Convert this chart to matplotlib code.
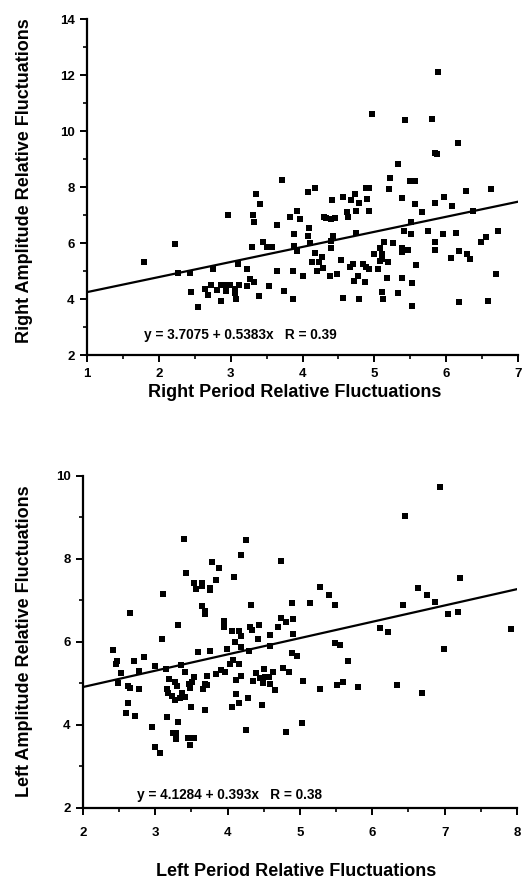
import numpy as np
import matplotlib
matplotlib.use("Agg")
import matplotlib.pyplot as plt
from matplotlib.ticker import MultipleLocator

plt.rcParams['font.family'] = ['Liberation Sans', 'DejaVu Sans']
plt.rcParams['font.weight'] = 'bold'

# right side: period vs amplitude fluctuations
right_period = [
    5.89, 4.97, 5.42, 5.80, 6.17, 5.85, 5.87, 5.33,
    3.72, 3.35, 3.41, 4.07, 4.17, 2.96, 3.31, 3.32, 3.64, 3.82, 3.92, 3.96,
    4.09, 3.88, 4.07, 4.11, 2.23, 3.30, 3.45, 3.51, 3.58, 3.88, 3.93, 4.18,
    4.23, 4.13, 1.80, 2.27, 2.43, 2.75, 3.10, 3.23, 3.65, 3.87, 4.00, 4.20,
    3.27, 3.32, 3.23, 2.73, 2.86, 2.92, 2.99, 3.12, 2.81, 2.93, 3.06, 3.06,
    2.64, 2.68, 2.45, 3.53, 3.40, 3.74, 3.87, 2.87, 3.07, 2.54,
    5.22, 5.50, 5.57, 5.20, 4.88, 4.93, 4.73, 4.68, 4.79, 4.90, 4.57, 4.41,
    5.39, 5.57, 5.67, 5.85, 5.97, 6.08, 6.27, 6.62, 6.37, 4.62, 4.63, 4.75,
    4.92, 4.30, 4.32, 4.40, 4.45, 5.51, 5.41, 5.51, 5.75, 5.95, 6.14, 6.72,
    6.55, 6.48, 5.84, 5.84, 6.18, 6.29, 6.33, 6.07, 4.75, 4.43, 4.40, 4.40,
    5.13, 5.26, 5.08, 5.38, 5.38, 5.47, 5.00, 5.11, 5.10, 5.08, 5.19, 5.58,
    4.27, 4.53, 4.70, 4.66, 4.84, 4.88, 4.93, 5.05, 4.29, 4.38, 4.48, 4.77,
    4.72, 4.87, 5.17, 5.38, 5.53, 6.69, 5.10, 5.33, 4.57, 4.78, 5.12, 5.53,
    6.18, 6.58,
]
right_amplitude = [
    12.12, 10.62, 10.39, 10.43, 9.56, 9.23, 9.18, 8.83,
    8.25, 7.74, 7.40, 7.82, 7.98, 7.00, 7.00, 6.76, 6.65, 6.92, 7.13, 6.87,
    6.54, 6.32, 6.26, 5.99, 5.95, 5.87, 6.03, 5.87, 5.85, 5.89, 5.73, 5.63,
    5.33, 5.31, 5.33, 4.94, 4.94, 5.07, 5.25, 5.06, 5.00, 5.00, 4.83, 5.00,
    4.70, 4.60, 4.48, 4.50, 4.50, 4.50, 4.50, 4.50, 4.32, 4.29, 4.35, 4.23,
    4.35, 4.14, 4.24, 4.48, 4.11, 4.30, 3.99, 3.92, 4.00, 3.70,
    8.31, 8.21, 8.21, 7.93, 7.95, 7.95, 7.74, 7.54, 7.42, 7.58, 7.64, 7.55,
    7.62, 7.39, 7.12, 7.44, 7.65, 7.32, 7.86, 7.93, 7.15, 7.12, 6.94, 7.16,
    7.15, 6.94, 6.90, 6.86, 6.90, 6.76, 6.43, 6.31, 6.43, 6.31, 6.36, 6.44,
    6.20, 6.04, 6.05, 5.74, 5.73, 5.61, 5.44, 5.45, 6.35, 6.26, 6.07, 5.83,
    6.03, 6.01, 5.81, 5.81, 5.69, 5.74, 5.61, 5.60, 5.42, 5.36, 5.32, 5.21,
    5.51, 5.40, 5.24, 5.13, 5.24, 5.15, 5.06, 5.06, 5.10, 4.83, 4.88, 4.82,
    4.64, 4.60, 4.74, 4.74, 4.57, 4.90, 4.26, 4.21, 4.05, 4.00, 4.00, 3.76,
    3.90, 3.94,
]

# left side
left_period = [
    6.94, 6.45, 3.40, 4.26, 3.79, 3.88, 3.43, 3.54, 3.65, 3.65, 3.56, 3.75,
    3.75, 3.84, 4.09, 3.10, 2.65, 3.64, 3.68, 3.68, 3.32, 3.95, 3.95, 4.06,
    3.09, 4.10, 2.42, 2.47, 2.46, 2.71, 2.84, 2.52, 2.78, 3.00, 3.15, 3.36,
    3.41, 3.59, 3.76, 3.99, 4.08, 3.91, 3.97, 3.84, 4.03, 3.72, 3.53, 3.51,
    3.46, 3.48, 3.19, 3.27, 3.30, 3.69, 3.72, 3.66, 2.62, 2.65, 2.77, 2.48,
    3.16, 3.18, 3.37, 3.41, 3.23, 3.27, 3.34, 4.11, 2.62, 2.60, 2.72, 3.50,
    3.69, 4.06, 3.16, 3.31, 2.95, 3.24, 3.29, 3.29, 3.45, 3.54, 3.48, 2.99,
    3.06, 4.18, 4.74, 5.27, 5.40, 5.48, 5.14, 4.89, 4.32, 4.74, 4.80, 4.90,
    4.69, 4.90, 4.59, 4.44, 4.31, 4.34, 4.42, 4.16, 4.19, 5.49, 5.56, 6.10,
    4.18, 4.30, 4.58, 4.15, 4.89, 4.96, 5.67, 4.77, 4.85, 5.04, 5.27, 5.51,
    5.59, 5.80, 4.19, 4.12, 4.35, 4.39, 4.50, 4.62, 4.45, 4.57, 4.49, 4.58,
    4.52, 4.66, 4.28, 4.15, 4.47, 4.25, 4.81, 5.03, 6.42, 6.63, 6.76, 6.87,
    7.21, 7.04, 7.19, 6.22, 7.92, 6.99, 6.34, 6.68,
]
left_amplitude = [
    9.74, 9.03, 8.47, 8.46, 7.93, 7.78, 7.66, 7.42, 7.43, 7.35, 7.28, 7.29,
    7.24, 7.49, 7.57, 7.15, 6.69, 6.87, 6.75, 6.67, 6.41, 6.51, 6.36, 6.26,
    6.07, 6.01, 5.81, 5.55, 5.47, 5.54, 5.64, 5.26, 5.29, 5.42, 5.34, 5.45,
    5.27, 5.77, 5.79, 5.83, 5.57, 5.33, 5.28, 5.22, 5.47, 5.19, 5.15, 5.04,
    4.98, 4.90, 5.10, 5.03, 4.95, 4.98, 4.96, 4.86, 4.93, 4.88, 4.86, 5.00,
    4.86, 4.76, 4.78, 4.68, 4.70, 4.60, 4.64, 4.74, 4.53, 4.28, 4.22, 4.44,
    4.36, 4.43, 4.19, 4.08, 3.96, 3.81, 3.80, 3.66, 3.68, 3.68, 3.52, 3.48,
    3.33, 8.10, 7.94, 7.32, 7.13, 6.88, 6.95, 6.93, 6.89, 6.57, 6.49, 6.56,
    6.35, 6.20, 6.17, 6.40, 6.37, 6.29, 6.07, 6.26, 6.14, 5.97, 5.93, 6.33,
    5.89, 5.79, 5.90, 5.46, 5.74, 5.66, 5.54, 5.38, 5.27, 5.06, 4.87, 4.97,
    5.04, 4.92, 5.18, 5.08, 5.07, 5.25, 5.35, 5.27, 5.13, 5.15, 5.00, 4.99,
    5.16, 4.84, 4.64, 4.54, 4.48, 3.88, 3.82, 4.04, 6.89, 7.30, 7.14, 6.96,
    7.53, 6.67, 6.71, 6.25, 6.31, 5.83, 4.96, 4.78,
]

right_fit = (3.7075, 0.5383, 0.39)
left_fit = (4.1284, 0.393, 0.38)


def style_axes(ax, xlim, ylim, xpad):
    ax.set_xlim(*xlim)
    ax.set_ylim(*ylim)
    for side in ["top", "right"]:
        ax.spines[side].set_visible(False)
    for side in ["left", "bottom"]:
        ax.spines[side].set_linewidth(1.6)
    ax.xaxis.set_major_locator(MultipleLocator(1))
    ax.xaxis.set_minor_locator(MultipleLocator(0.5))
    ax.yaxis.set_major_locator(MultipleLocator(2))
    ax.yaxis.set_minor_locator(MultipleLocator(1))
    ax.tick_params(which="major", direction="out", length=5, width=1.4,
                   labelsize=9.5, pad=4)
    ax.tick_params(axis="x", which="major", pad=xpad)
    ax.tick_params(which="minor", direction="out", length=3, width=1.2)


def draw_panel(ax, period, amplitude, fit, xlim, ylim, eq_pos, xpad):
    ax.plot(period, amplitude, "s", color="black", markersize=4.2,
            markeredgewidth=0)
    xs = np.array(xlim, dtype=float)
    ax.plot(xs, fit[0] + fit[1] * xs, color="black", linewidth=1.6)
    b = ("%g" % fit[1])
    ax.text(eq_pos[0], eq_pos[1],
            "y = %.4f + %sx   R = %.2f" % (fit[0], b, fit[2]),
            fontsize=9.8, fontweight="bold", va="center")
    style_axes(ax, xlim, ylim, xpad)


fig = plt.figure(figsize=(5.22, 8.84), dpi=100)
ax1 = fig.add_axes([0.1667, 0.5984, 0.8257, 0.3801])
ax2 = fig.add_axes([0.1590, 0.0860, 0.8314, 0.3756])

draw_panel(ax1, right_period, right_amplitude, right_fit, (1, 7), (2, 14),
           (1.79, 2.71), 4)
draw_panel(ax2, left_period, left_amplitude, left_fit, (2, 8), (2, 10),
           (2.75, 2.31), 9)

label_kw = dict(fontsize=13, fontweight="bold", ha="center", va="center")
fig.text(0.565, 0.5556, "Right Period Relative Fluctuations", **label_kw)
fig.text(0.046, 0.796, "Right Amplitude Relative Fluctuations",
         rotation=90, **label_kw)
fig.text(0.567, 0.0136, "Left Period Relative Fluctuations", **label_kw)
fig.text(0.046, 0.275, "Left Amplitude Relative Fluctuations",
         rotation=90, **label_kw)

fig.savefig("out.png", dpi=100)
